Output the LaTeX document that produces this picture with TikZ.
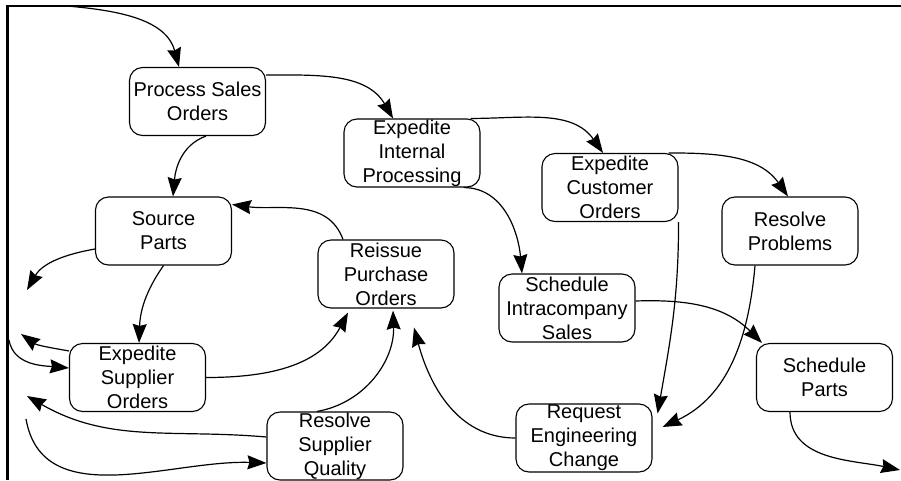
\documentclass[tikz,border=0pt]{standalone}
\usepackage{fontspec}
\setmainfont{Liberation Sans}
\usetikzlibrary{arrows.meta}

\begin{document}
\begin{tikzpicture}[x=1pt, y=1pt, line width=1.2pt,
  >={Stealth[length=19pt,width=14pt,inset=2pt]},
  task/.style={draw, line width=1.1pt, rounded corners=13pt, minimum width=136pt, minimum height=68pt,
    inner sep=0pt, align=center, font=\fontsize{20}{24}\selectfont}]
  \useasboundingbox (0,0) rectangle (901,-480);
  \draw[line width=2.2pt] (7.5,-480) -- (7.5,-6) -- (901,-6);

  \node[task] (psales)     at (197.5,-101.5) {Process Sales\\Orders};
  \node[task] (expint)     at (412,-153)     {Expedite\\Internal\\Processing};
  \node[task] (expcust)    at (610,-187.5)   {Expedite\\Customer\\Orders};
  \node[task] (resprob)    at (790,-231)     {Resolve\\Problems};
  \node[task] (srcparts)   at (163.5,-231)   {Source\\Parts};
  \node[task] (reissue)    at (386,-274)     {Reissue\\Purchase\\Orders};
  \node[task] (schedic)    at (567,-308)     {Schedule\\Intracompany\\Sales};
  \node[task] (schedparts) at (824.5,-377.5) {Schedule\\Parts};
  \node[task] (reqeng)     at (584,-438)     {Request\\Engineering\\Change};
  \node[task] (expsupp)    at (137.5,-377.5) {Expedite\\Supplier\\Orders};
  \node[task] (ressupp)    at (335,-446)     {Resolve\\Supplier\\Quality};

  % loose ends at the edges
  \coordinate (inflow)  at (67,-6);
  \coordinate (outflow) at (900,-470);
  \coordinate (srcout)  at (27,-290);
  \coordinate (suppout) at (21,-334);
  \coordinate (suppin)  at (9,-340);
  \coordinate (qualout) at (27,-396);
  \coordinate (qualin)  at (26,-419);

  \draw[->] (inflow) to[out=-5,in=105] ([xshift=-18.5pt]psales.north);
  \draw[->] ([yshift=-8pt]psales.north east) to[out=0,in=120] ([xshift=-19pt]expint.north);
  \draw[->] ([xshift=8.5pt]psales.south) to[out=200,in=85] ([xshift=9.5pt]srcparts.north);
  \draw[->] ([xshift=-10pt]expint.north east) to[out=0,in=125] ([xshift=-7pt]expcust.north);
  \draw[->] ([xshift=-17pt]expint.south east) to[out=0,in=95] ([xshift=-45pt]schedic.north);
  \draw[->] ([xshift=-10pt]expcust.north east) to[out=0,in=125] ([xshift=-2pt]resprob.north);
  \draw[->] (expcust.south east) to[out=-90,in=80] ([xshift=5pt,yshift=-10pt]reqeng.north east);
  \draw[->] ([xshift=-35pt]resprob.south) to[out=-95,in=25] ([xshift=10pt,yshift=11pt]reqeng.east);
  \draw[->] ([yshift=7pt]schedic.east) to[out=2,in=135] ([xshift=6pt]schedparts.north west);
  \draw[->] ([xshift=-34.5pt]schedparts.south) to[out=-90,in=168] (outflow);

  \draw[->] ([xshift=-43pt]reissue.north) to[out=110,in=-8] ([yshift=-8pt]srcparts.north east);
  \draw[->] ([yshift=-18pt]srcparts.west) to[out=190,in=60] (srcout);
  \draw[->] (srcparts.south) to[out=-125,in=88] ([xshift=1.5pt]expsupp.north);
  \draw[->] ([yshift=-8pt]expsupp.north west) to[out=170,in=-35] (suppout);
  \draw[->] (suppin) to[out=-80,in=175] ([yshift=9.5pt]expsupp.west);
  \draw[->] (expsupp.east) to[out=0,in=-118] ([xshift=-38pt,yshift=-4pt]reissue.south);
  \draw[->] ([xshift=-18pt]ressupp.north) to[out=10,in=-88] ([xshift=7pt,yshift=-2pt]reissue.south);
  \draw[->] (reqeng.west) to[out=180,in=-75] ([xshift=28pt,yshift=-19pt]reissue.south);
  \draw[->] ([yshift=9pt]ressupp.west) to[out=175,in=-30] (qualout);
  \draw[->] (qualin) to[out=-80,in=178] ([yshift=-17pt]ressupp.west);
\end{tikzpicture}
\end{document}
